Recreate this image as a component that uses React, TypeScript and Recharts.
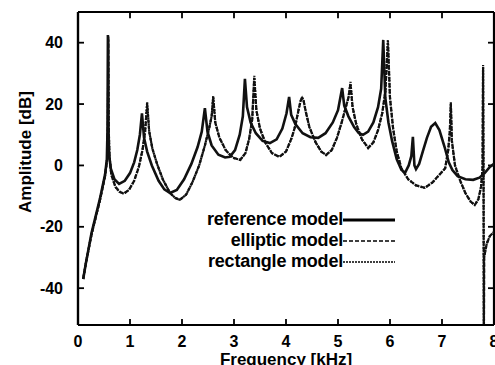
import React from "react";
import { LineChart, Line, XAxis, YAxis, Legend, CartesianGrid, ReferenceLine } from "recharts";

const FONT = '"Liberation Sans", Arial, Helvetica, sans-serif';

const FREQ_TICKS = [0, 1, 2, 3, 4, 5, 6, 7, 8];
const DB_TICKS = [-40, -20, 0, 20, 40];
const X_DOMAIN = [0, 8];
const Y_DOMAIN = [-52, 50];

// [frequency kHz, amplitude dB]
const referenceModel: [number, number][] = [
  [0.10, -37], [0.15, -32], [0.26, -22], [0.42, -11], [0.52, -3], [0.555, 2], [0.568, 12],
  [0.575, 42.5], [0.582, 14], [0.595, 4], [0.63, -1], [0.70, -4.5], [0.79, -6], [0.90, -5],
  [1.00, -2.5], [1.08, 1], [1.14, 5], [1.19, 10], [1.23, 17], [1.27, 9], [1.33, 4.5],
  [1.42, 0], [1.55, -5], [1.66, -7.8], [1.77, -9], [1.90, -8], [2.04, -4.5], [2.18, 0.5],
  [2.30, 6], [2.38, 11], [2.44, 18.7], [2.49, 11], [2.57, 6.5], [2.70, 3.5], [2.83, 2.6],
  [2.92, 2.8], [3.02, 5], [3.11, 10], [3.17, 16], [3.21, 28.2], [3.25, 19], [3.32, 14],
  [3.42, 10.5], [3.55, 8], [3.69, 7.3], [3.82, 8.5], [3.93, 12], [4.01, 17], [4.06, 22.3],
  [4.10, 16.5], [4.18, 13.5], [4.32, 10.5], [4.47, 9.2], [4.62, 9], [4.76, 10.5], [4.90, 14],
  [5.00, 18], [5.08, 25.2], [5.12, 19.5], [5.20, 16], [5.31, 12.5], [5.40, 10.5], [5.48, 10],
  [5.58, 11], [5.68, 14], [5.77, 19], [5.83, 25], [5.87, 40.9], [5.91, 22], [5.97, 14],
  [6.04, 8], [6.13, 2], [6.22, -1.5], [6.29, -2.4], [6.36, 0], [6.41, 3], [6.44, 9.3],
  [6.47, 0], [6.50, -1.2], [6.56, 0.5], [6.63, 4.5], [6.71, 9], [6.79, 12.6], [6.87, 13.8],
  [6.95, 11.5], [7.05, 6], [7.13, 1], [7.20, -1.5], [7.30, -3.5], [7.45, -4.5], [7.60, -4.7],
  [7.72, -4], [7.82, -2.5], [7.92, -0.5], [8.00, 0.5],
];

const ellipticModel: [number, number][] = [
  [0.10, -37], [0.15, -32], [0.26, -22.5], [0.42, -11.5], [0.52, -3.5], [0.56, 2], [0.575, 14],
  [0.583, 41], [0.59, 13], [0.605, 3], [0.64, -3], [0.72, -7], [0.80, -8.6], [0.88, -9.2],
  [0.98, -8], [1.08, -5], [1.17, -0.5], [1.24, 5], [1.29, 11], [1.33, 19.8], [1.37, 11],
  [1.43, 5.5], [1.52, 0.5], [1.63, -4.5], [1.77, -9], [1.87, -10.6], [1.96, -11.2], [2.08, -9.5],
  [2.20, -5.5], [2.33, 0], [2.44, 6.5], [2.52, 12], [2.57, 16], [2.60, 22], [2.64, 14],
  [2.72, 9], [2.84, 5], [2.98, 2.5], [3.12, 1.8], [3.22, 4], [3.29, 8.5], [3.35, 15],
  [3.39, 28.5], [3.43, 18], [3.50, 12], [3.60, 7.5], [3.73, 4], [3.87, 2.8], [4.00, 4.5],
  [4.11, 9], [4.18, 13], [4.24, 18], [4.28, 21], [4.31, 22], [4.34, 21], [4.38, 17.5],
  [4.45, 12.5], [4.57, 7.5], [4.68, 4.5], [4.77, 3.4], [4.88, 5], [4.98, 9], [5.07, 14],
  [5.15, 19], [5.20, 22], [5.24, 26.5], [5.28, 19], [5.35, 13.5], [5.46, 8.5], [5.58, 5.7],
  [5.68, 7.5], [5.77, 11.5], [5.85, 17], [5.91, 24], [5.96, 40], [6.00, 22], [6.06, 12],
  [6.13, 4.5], [6.22, -1], [6.35, -4.5], [6.50, -6.5], [6.67, -7.3], [6.82, -5.5], [6.95, -3],
  [7.06, -1], [7.12, 5], [7.15, 11], [7.17, 20], [7.19, 8], [7.25, 0], [7.35, -5],
  [7.45, -9], [7.55, -11.8], [7.63, -12.9], [7.70, -11], [7.75, -7], [7.78, -1], [7.79, 32],
  [7.80, -10], [7.805, -62], [7.81, -30], [7.86, -25.5], [7.92, -23], [8.00, -21.7],
];

const rectangleModel: [number, number][] = [
  [0.10, -37], [0.15, -32], [0.26, -22.5], [0.42, -11.5], [0.52, -3.5], [0.56, 2], [0.575, 14],
  [0.583, 42], [0.59, 13], [0.605, 3], [0.64, -3], [0.72, -7], [0.80, -8.6], [0.88, -9.2],
  [0.98, -8], [1.08, -5], [1.17, -0.5], [1.24, 5], [1.29, 11], [1.33, 20.6], [1.37, 11],
  [1.43, 5.5], [1.52, 0.5], [1.63, -4.5], [1.77, -9], [1.87, -10.6], [1.96, -11.2], [2.08, -9.5],
  [2.20, -5.5], [2.33, 0], [2.44, 6.5], [2.52, 12], [2.57, 16], [2.60, 22.6], [2.64, 14],
  [2.72, 9], [2.84, 5], [2.98, 2.5], [3.12, 1.8], [3.22, 4], [3.29, 8.5], [3.35, 15],
  [3.39, 29.2], [3.43, 18], [3.50, 12], [3.60, 7.5], [3.73, 4], [3.87, 2.8], [4.00, 4.5],
  [4.11, 9], [4.18, 13], [4.24, 18], [4.28, 21], [4.31, 22.3], [4.34, 21], [4.38, 17.5],
  [4.45, 12.5], [4.57, 7.5], [4.68, 4.5], [4.77, 3.4], [4.88, 5], [4.98, 9], [5.07, 14],
  [5.15, 19], [5.20, 22], [5.24, 27.2], [5.28, 19], [5.35, 13.5], [5.46, 8.5], [5.58, 5.7],
  [5.68, 7.5], [5.77, 11.5], [5.85, 17], [5.91, 24], [5.96, 40.9], [6.00, 22], [6.06, 12],
  [6.13, 4.5], [6.22, -1], [6.35, -4.5], [6.50, -6.5], [6.67, -7.3], [6.82, -5.5], [6.95, -3],
  [7.06, -1], [7.12, 5], [7.15, 11], [7.17, 20.6], [7.19, 8], [7.25, 0], [7.35, -5],
  [7.45, -9], [7.55, -11.8], [7.63, -12.9], [7.70, -11], [7.75, -7], [7.78, -1], [7.79, 32.7],
  [7.80, -10], [7.805, -62], [7.81, -30], [7.86, -25.5], [7.92, -23], [8.00, -21.7],
];

const SERIES = [
  { key: "reference", name: "reference model", points: referenceModel, dash: undefined, width: 2.6, legendWidth: 3 },
  { key: "elliptic", name: "elliptic model", points: ellipticModel, dash: "4 2", width: 2.2, legendWidth: 1.6 },
  { key: "rectangle", name: "rectangle model", points: rectangleModel, dash: "2 1", width: 2.2, legendWidth: 1.6 },
];

const toRows = (points: [number, number][]) => points.map(([f, db]) => ({ f, db }));

// inward tick length on the top/right frame, in axis units (~6px)
const TOP_TICK_DB = 2;
const RIGHT_TICK_KHZ = 0.115;

const axisLine = { stroke: "#000", strokeWidth: 2.2 };
const tickLine = { stroke: "#000", strokeWidth: 1.8 };
const tickText = { fill: "#000", fontSize: 16, fontWeight: 700, fontFamily: FONT };
const titleStyle = { fill: "#000", fontSize: 17, fontWeight: 700, fontFamily: FONT };

// the grid is used only for the closed frame: one line on each edge of the plot
const frameRows = ({ offset }: any) => [offset.top, offset.top + offset.height];
const frameCols = ({ offset }: any) => [offset.left, offset.left + offset.width];

const renderLegend = () => (
  <div style={{ fontFamily: FONT, fontSize: 18, fontWeight: 700, color: "#000" }}>
    {SERIES.map((s) => (
      <div
        key={s.key}
        style={{ display: "flex", justifyContent: "flex-end", alignItems: "center", height: 21 }}
      >
        <span style={{ letterSpacing: -0.2 }}>{s.name}</span>
        <svg width={52} height={8} style={{ display: "block" }}>
          <line x1={0} y1={4} x2={52} y2={4} stroke="#000" strokeWidth={s.legendWidth} strokeDasharray={s.dash} />
        </svg>
      </div>
    ))}
  </div>
);

export default function App() {
  const [xMin, xMax] = X_DOMAIN;
  const [, yMax] = Y_DOMAIN;
  return (
    <div style={{ position: "fixed", left: 0, top: 0, width: 495, height: 365, overflow: "hidden", background: "#fff" }}>
      <LineChart width={500} height={365} margin={{ top: 12, right: 6, bottom: 0, left: 0 }}>
        <CartesianGrid
          stroke="#000"
          strokeWidth={2.2}
          fill="none"
          horizontalCoordinatesGenerator={frameRows}
          verticalCoordinatesGenerator={frameCols}
        />
        <XAxis
          dataKey="f"
          type="number"
          domain={X_DOMAIN}
          ticks={FREQ_TICKS}
          allowDataOverflow
          height={40}
          tickSize={-6}
          tickMargin={17}
          axisLine={axisLine}
          tickLine={tickLine}
          tick={tickText}
          label={{ value: "Frequency [kHz]", position: "insideBottom", offset: 0, style: titleStyle }}
        />
        <YAxis
          type="number"
          domain={Y_DOMAIN}
          ticks={DB_TICKS}
          allowDataOverflow
          width={78}
          tickSize={-6}
          tickMargin={21}
          axisLine={axisLine}
          tickLine={tickLine}
          tick={tickText}
          label={{
            content: () => (
              <text
                x={25}
                y={152}
                transform="rotate(-90 25 152)"
                textAnchor="middle"
                dominantBaseline="central"
                style={titleStyle}
              >
                Amplitude [dB]
              </text>
            ),
          }}
        />

        {/* inward ticks on the top and right sides of the frame */}
        {FREQ_TICKS.filter((t) => t > xMin && t < xMax).map((t) => (
          <ReferenceLine
            key={`tt-${t}`}
            segment={[{ x: t, y: yMax }, { x: t, y: yMax - TOP_TICK_DB }]}
            stroke="#000"
            strokeWidth={1.8}
          />
        ))}
        {DB_TICKS.map((v) => (
          <ReferenceLine
            key={`rt-${v}`}
            segment={[{ x: xMax, y: v }, { x: xMax - RIGHT_TICK_KHZ, y: v }]}
            stroke="#000"
            strokeWidth={1.8}
          />
        ))}

        {SERIES.map((s) => (
          <Line
            key={s.key}
            name={s.name}
            data={toRows(s.points)}
            dataKey="db"
            type="linear"
            stroke="#111"
            strokeWidth={s.width}
            strokeDasharray={s.dash}
            dot={false}
            activeDot={false}
            isAnimationActive={false}
          />
        ))}
        <Legend
          layout="vertical"
          align="center"
          verticalAlign="middle"
          content={renderLegend}
          wrapperStyle={{ position: "absolute", left: 175, top: 209, width: 220 }}
        />
      </LineChart>
    </div>
  );
}
